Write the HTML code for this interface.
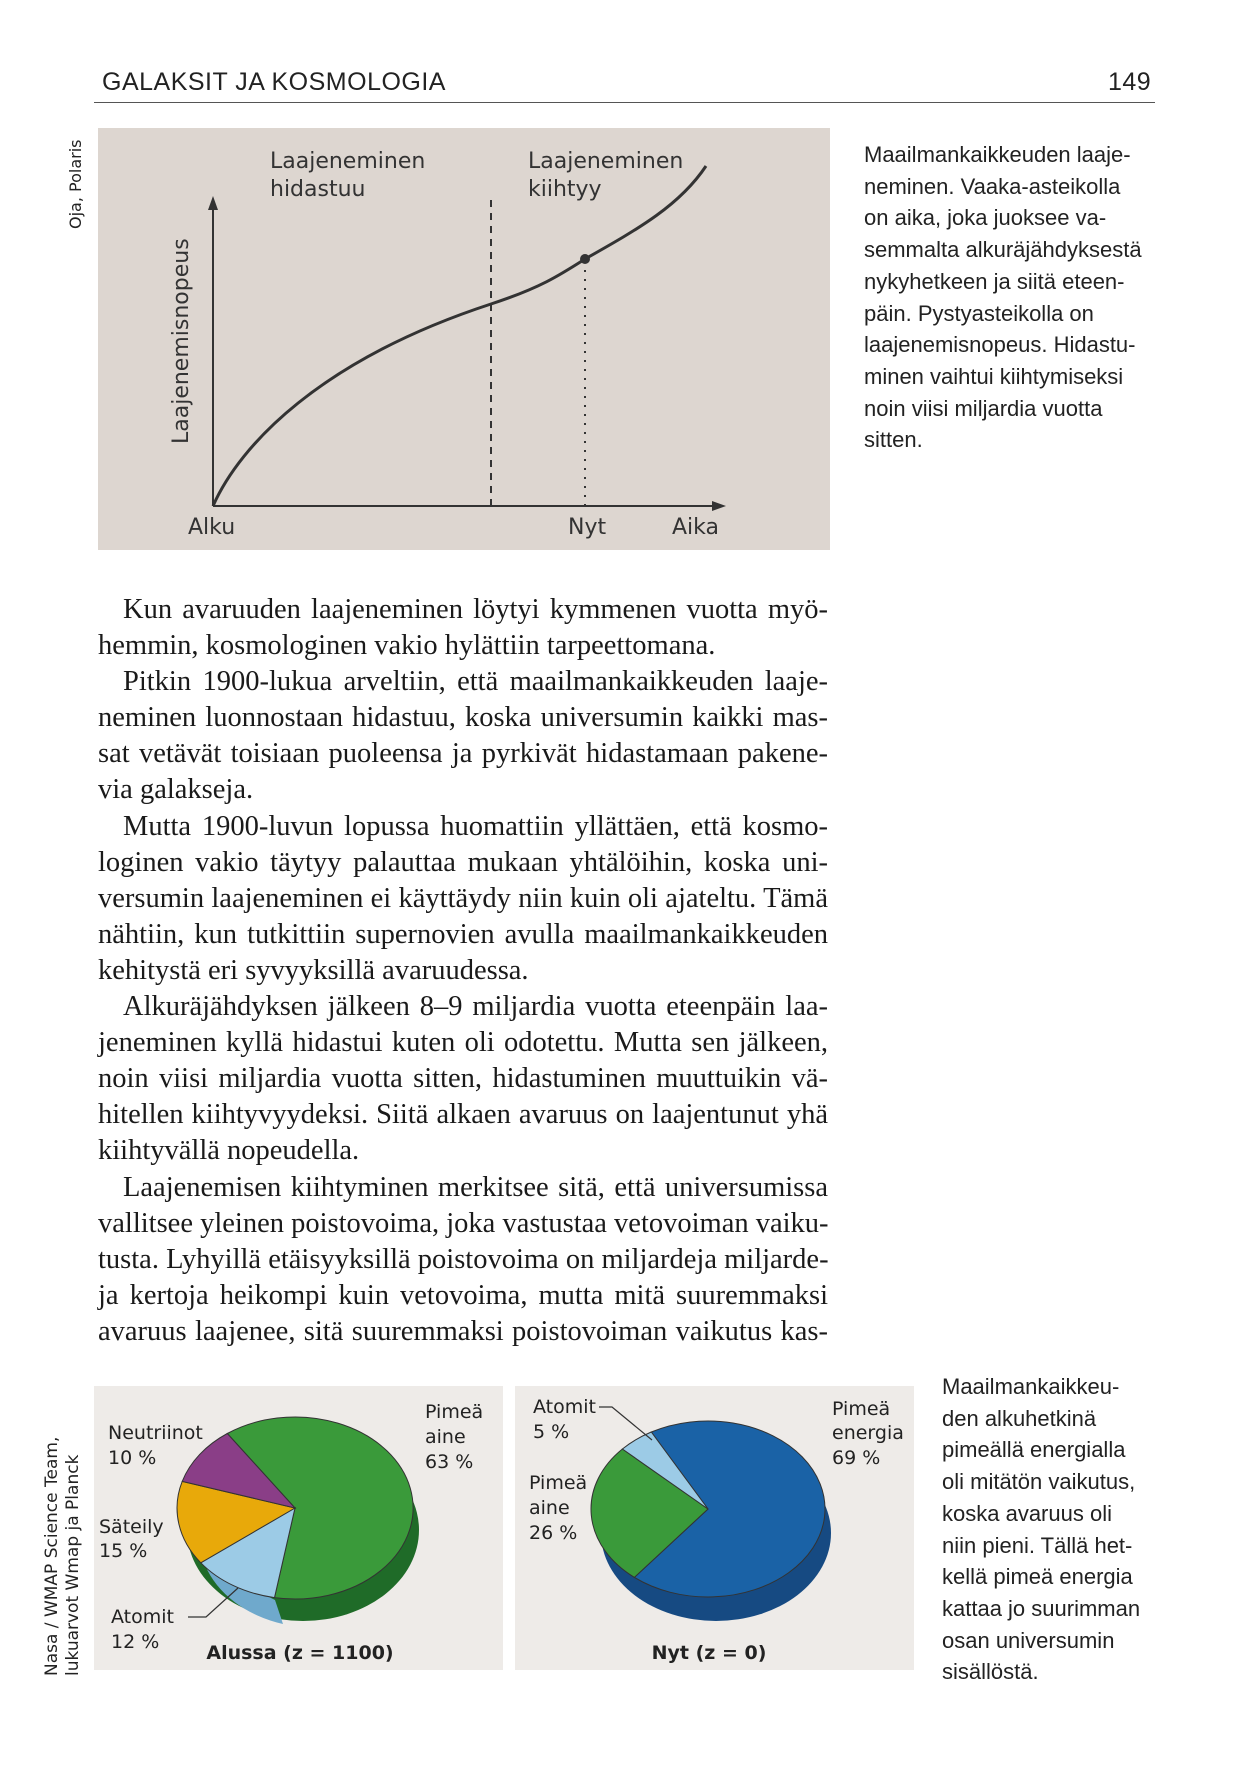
<!DOCTYPE html>
<html><head><meta charset="utf-8"><style>
body{margin:0;background:#fff;}
#p{position:relative;width:1248px;height:1776px;overflow:hidden;background:#fff;}
.a{position:absolute;white-space:nowrap;}
.hdr{font-family:"Liberation Sans Narrow","Liberation Sans",sans-serif;font-size:25px;color:#222;letter-spacing:0.5px;}
.cap{font-family:"Liberation Sans Narrow","Liberation Sans",sans-serif;font-size:22px;color:#222;line-height:31.7px;}
.body{position:absolute;left:98px;top:592px;width:730px;font-family:"Liberation Serif",serif;font-size:28.5px;color:#1a1a1a;line-height:36.1px;}
.body div{text-align:justify;text-align-last:justify;white-space:nowrap;height:36.1px;}
.body div.l{text-align-last:left;}
.body div.i{text-indent:25px;}
.rot{position:absolute;transform:rotate(-90deg);transform-origin:left top;font-family:"DejaVu Sans","Liberation Sans",sans-serif;color:#222;white-space:nowrap;}
</style></head><body><div id="p">
<div class="a hdr" style="left:102px;top:68px;">GALAKSIT JA KOSMOLOGIA</div>
<div class="a hdr" style="left:1108px;top:68px;">149</div>
<div class="a" style="left:94px;top:102px;width:1061px;height:1px;background:#555;"></div>

<div class="rot" style="left:66px;top:229px;font-size:16px;">Oja, Polaris</div>

<div class="a" style="left:98px;top:128px;width:732px;height:422px;background:#ddd6d0;"></div>
<svg class="a" style="left:0;top:0" width="1248" height="600">
 <g stroke="#333" fill="none">
  <line x1="213" y1="506" x2="213" y2="205" stroke-width="2"/>
  <line x1="213" y1="506" x2="718" y2="506" stroke-width="2"/>
  <line x1="491" y1="506" x2="491" y2="196" stroke-width="2" stroke-dasharray="7,6"/>
  <line x1="585" y1="506" x2="585" y2="260" stroke-width="2" stroke-dasharray="2,7"/>
  <path d="M213,506 C240,445 320,360 491,304 C540,288 560,275 585,259 C640,228 680,205 706,166" stroke-width="3"/>
 </g>
 <polygon points="213,196 208,210 218,210" fill="#333"/>
 <polygon points="726,506 712,501 712,511" fill="#333"/>
 <circle cx="585" cy="259" r="5" fill="#333"/>
 <g font-family="DejaVu Sans, Liberation Sans, sans-serif" font-size="22" fill="#333">
  <text x="270" y="168">Laajeneminen</text><text x="270" y="196">hidastuu</text>
  <text x="528" y="168">Laajeneminen</text><text x="528" y="196">kiihtyy</text>
  <text x="188" y="534">Alku</text><text x="568" y="534">Nyt</text><text x="672" y="534">Aika</text>
  <text transform="translate(188,444) rotate(-90)">Laajenemisnopeus</text>
 </g>
</svg>

<div class="a cap" style="left:864px;top:139px;">Maailmankaikkeuden laaje-<br>neminen. Vaaka-asteikolla<br>on aika, joka juoksee va-<br>semmalta alkuräjähdyksestä<br>nykyhetkeen ja siitä eteen-<br>päin. Pystyasteikolla on<br>laajenemisnopeus. Hidastu-<br>minen vaihtui kiihtymiseksi<br>noin viisi miljardia vuotta<br>sitten.</div>

<div class="body">
<div class="i">Kun avaruuden laajeneminen löytyi kymmenen vuotta myö-</div>
<div class="l">hemmin, kosmologinen vakio hylättiin tarpeettomana.</div>
<div class="i">Pitkin 1900-lukua arveltiin, että maailmankaikkeuden laaje-</div>
<div>neminen luonnostaan hidastuu, koska universumin kaikki mas-</div>
<div>sat vetävät toisiaan puoleensa ja pyrkivät hidastamaan pakene-</div>
<div class="l">via galakseja.</div>
<div class="i">Mutta 1900-luvun lopussa huomattiin yllättäen, että kosmo-</div>
<div>loginen vakio täytyy palauttaa mukaan yhtälöihin, koska uni-</div>
<div>versumin laajeneminen ei käyttäydy niin kuin oli ajateltu. Tämä</div>
<div>nähtiin, kun tutkittiin supernovien avulla maailmankaikkeuden</div>
<div class="l">kehitystä eri syvyyksillä avaruudessa.</div>
<div class="i">Alkuräjähdyksen jälkeen 8–9 miljardia vuotta eteenpäin laa-</div>
<div>jeneminen kyllä hidastui kuten oli odotettu. Mutta sen jälkeen,</div>
<div>noin viisi miljardia vuotta sitten, hidastuminen muuttuikin vä-</div>
<div>hitellen kiihtyvyydeksi. Siitä alkaen avaruus on laajentunut yhä</div>
<div class="l">kiihtyvällä nopeudella.</div>
<div class="i">Laajenemisen kiihtyminen merkitsee sitä, että universumissa</div>
<div>vallitsee yleinen poistovoima, joka vastustaa vetovoiman vaiku-</div>
<div>tusta. Lyhyillä etäisyyksillä poistovoima on miljardeja miljarde-</div>
<div>ja kertoja heikompi kuin vetovoima, mutta mitä suuremmaksi</div>
<div>avaruus laajenee, sitä suuremmaksi poistovoiman vaikutus kas-</div>
</div>

<div class="rot" style="left:42px;top:1676px;font-size:17px;line-height:21px;">Nasa / WMAP Science Team,<br>lukuarvot Wmap ja Planck</div>

<div class="a" style="left:94px;top:1386px;width:409px;height:284px;background:#eeebe8;"></div>
<div class="a" style="left:515px;top:1386px;width:399px;height:284px;background:#eeebe8;"></div>
<svg class="a" style="left:0;top:1340px" width="1000" height="340">
 <g transform="translate(0,-1340)">
  <ellipse cx="303" cy="1530" rx="116" ry="91" fill="#1f6b28"/>
  <path d="M205,1565 A116,91 0 0 0 283,1624 L275,1600 Z" fill="#6fa9cc"/>
  <path d="M295,1508 L227.3,1433.5 A118,91 0 1 1 274.5,1597.6 Z" fill="#3a9a3a" stroke="#333" stroke-width="1"/>
  <path d="M295,1508 L274.5,1597.6 A118,91 0 0 1 200.8,1562.8 Z" fill="#9ccbe6" stroke="#333" stroke-width="1"/>
  <path d="M295,1508 L200.8,1562.8 A118,91 0 0 1 182.2,1481.4 Z" fill="#e8a90a" stroke="#333" stroke-width="1"/>
  <path d="M295,1508 L182.2,1481.4 A118,91 0 0 1 227.3,1433.5 Z" fill="#8a3e87" stroke="#333" stroke-width="1"/>
  <ellipse cx="716" cy="1533" rx="115" ry="88" fill="#164a82"/>
  <path d="M708,1509 L651.3,1432 A117,88 0 1 1 634.4,1577.4 Z" fill="#1a62a6" stroke="#333" stroke-width="1"/>
  <path d="M708,1509 L634.4,1577.4 A117,88 0 0 1 622.4,1449 Z" fill="#3a9a3a" stroke="#333" stroke-width="1"/>
  <path d="M708,1509 L622.4,1449 A117,88 0 0 1 651.3,1432 Z" fill="#9ccbe6" stroke="#333" stroke-width="1"/>
  <g stroke="#333" fill="none" stroke-width="1.2">
   <polyline points="188,1617 206,1617 238,1588"/>
   <polyline points="599,1407 612,1407 652,1440"/>
  </g>
  <g font-family="DejaVu Sans, Liberation Sans, sans-serif" font-size="19" fill="#222">
   <text x="108" y="1439">Neutriinot</text><text x="108" y="1464">10 %</text>
   <text x="99" y="1533">Säteily</text><text x="99" y="1557">15 %</text>
   <text x="111" y="1623">Atomit</text><text x="111" y="1648">12 %</text>
   <text x="425" y="1418">Pimeä</text><text x="425" y="1443">aine</text><text x="425" y="1468">63 %</text>
   <text x="533" y="1413">Atomit</text><text x="533" y="1438">5 %</text>
   <text x="529" y="1489">Pimeä</text><text x="529" y="1514">aine</text><text x="529" y="1539">26 %</text>
   <text x="832" y="1415">Pimeä</text><text x="832" y="1439">energia</text><text x="832" y="1464">69 %</text>
   <text x="300" y="1659" text-anchor="middle" font-weight="bold">Alussa (z = 1100)</text>
   <text x="709" y="1659" text-anchor="middle" font-weight="bold">Nyt (z = 0)</text>
  </g>
 </g>
</svg>

<div class="a cap" style="left:942px;top:1371px;">Maailmankaikkeu-<br>den alkuhetkinä<br>pimeällä energialla<br>oli mitätön vaikutus,<br>koska avaruus oli<br>niin pieni. Tällä het-<br>kellä pimeä energia<br>kattaa jo suurimman<br>osan universumin<br>sisällöstä.</div>
</div></body></html>
